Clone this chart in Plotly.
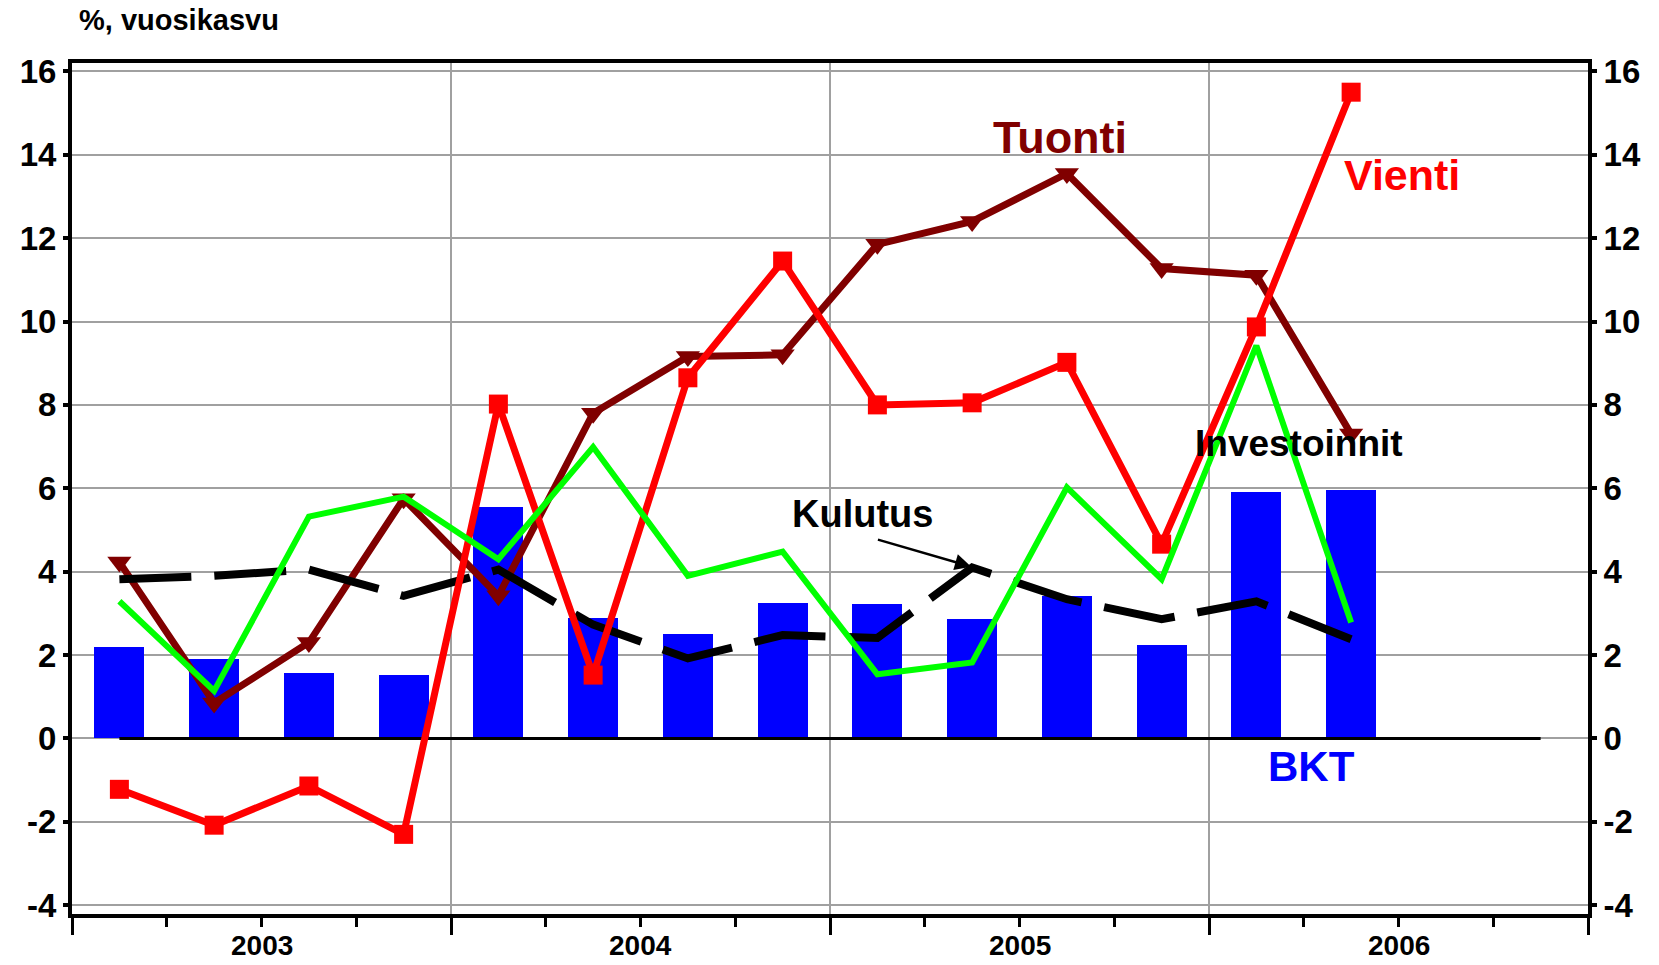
import plotly.graph_objects as go

# quarterly data 2003Q1 - 2006Q2, annual growth %
quarters = ["2003Q1", "2003Q2", "2003Q3", "2003Q4",
            "2004Q1", "2004Q2", "2004Q3", "2004Q4",
            "2005Q1", "2005Q2", "2005Q3", "2005Q4",
            "2006Q1", "2006Q2"]
years = ["2003", "2004", "2005", "2006"]
y_ticks = [-4, -2, 0, 2, 4, 6, 8, 10, 12, 14, 16]

bkt = [2.2, 1.9, 1.57, 1.52, 5.55, 2.88, 2.5, 3.25, 3.23, 2.87, 3.42, 2.23, 5.92, 5.95]
vienti = [-1.22, -2.08, -1.14, -2.3, 8.02, 1.52, 8.65, 11.45, 8.0, 8.05, 9.02, 4.66, 9.87, 15.5]
tuonti = [4.23, 0.85, 2.3, 5.75, 3.42, 7.8, 9.16, 9.2, 11.85, 12.4, 13.55, 11.27, 11.11, 7.3]
investoinnit = [3.29, 1.14, 5.32, 5.8, 4.3, 6.99, 3.9, 4.48, 1.54, 1.82, 6.02, 3.82, 9.42, 2.78]
kulutus = [3.82, 3.9, 4.05, 3.42, 4.05, 2.73, 1.92, 2.48, 2.41, 4.1, 3.34, 2.86, 3.29, 2.38]
zero_line = [0] * 16

n_q = 4 * len(years)
xq = [i + 0.5 for i in range(len(quarters))]
xz = [i + 0.5 for i in range(n_q)]

FONT = "Liberation Sans, Arial, sans-serif"

fig = go.Figure()
fig.add_trace(go.Bar(x=xq, y=bkt, width=0.53, marker=dict(color="#0000FF", line=dict(width=0)),
                     name="BKT"))
fig.add_trace(go.Scatter(x=xz, y=zero_line, mode="lines", line=dict(color="black", width=3),
                         hoverinfo="skip"))
fig.add_trace(go.Scatter(x=xq, y=tuonti, mode="lines+markers", name="Tuonti",
                         line=dict(color="#800000", width=7),
                         marker=dict(symbol="triangle-down", size=21, color="#800000")))
fig.add_trace(go.Scatter(x=xq, y=kulutus, mode="lines", name="Kulutus",
                         line=dict(color="black", width=8, dash="72px,23px")))
fig.add_trace(go.Scatter(x=xq, y=vienti, mode="lines+markers", name="Vienti",
                         line=dict(color="#FF0000", width=7),
                         marker=dict(symbol="square", size=19, color="#FF0000")))
fig.add_trace(go.Scatter(x=xq, y=investoinnit, mode="lines", name="Investoinnit",
                         line=dict(color="#00FF00", width=6)))
fig.add_trace(go.Scatter(x=[None], y=[None], yaxis="y2", showlegend=False))

yr = [-4.21, 16.2]
ytick = dict(tickmode="array", tickvals=y_ticks, ticktext=[str(v) for v in y_ticks],
             ticks="outside", ticklen=5, tickwidth=4, automargin=False,
             tickcolor="black", tickfont=dict(family=FONT, size=33, color="black", weight="bold"))

# year labels sit in the middle of each year, below the axis
year_labels = [dict(text=yy, x=4 * i + 2, xref="x", yref="paper", y=-0.037,
                    xanchor="center", yanchor="middle", showarrow=False,
                    font=dict(family=FONT, size=28, color="black", weight="bold"))
               for i, yy in enumerate(years)]

# the page body has an 8px margin, so the figure is 16px smaller than the window
fig.update_layout(
    width=1643, height=949,
    plot_bgcolor="white", paper_bgcolor="white",
    showlegend=False,
    margin=dict(l=64, r=63, t=55, b=43),
    xaxis=dict(range=[0, n_q], tickmode="array", automargin=False,
               tickvals=[4 * i for i in range(len(years) + 1)],
               showticklabels=False,
               ticks="outside", ticklen=17, tickwidth=3, tickcolor="black",
               showgrid=True, gridcolor="#A0A0A0", gridwidth=1.5,
               showline=True, linewidth=4, linecolor="black", mirror=True,
               zeroline=False,
               minor=dict(tickmode="array", tickvals=list(range(n_q + 1)), ticks="outside",
                          ticklen=9, tickwidth=3, tickcolor="black", showgrid=False)),
    yaxis=dict(range=yr, showgrid=True, gridcolor="#A0A0A0", gridwidth=1.5,
               showline=True, linewidth=4, linecolor="black", mirror=True,
               zeroline=False, **ytick),
    yaxis2=dict(range=yr, overlaying="y", side="right", showgrid=False,
                showline=True, linewidth=4, linecolor="black", zeroline=False, **ytick),
    bargap=0,
    annotations=year_labels + [
        dict(text="%, vuosikasvu", xref="paper", yref="paper", x=0.0033, y=1.051,
             xanchor="left", yanchor="middle", showarrow=False,
             font=dict(family=FONT, size=29, color="black", weight="bold")),
        dict(text="Tuonti", x=10.43, y=14.41, showarrow=False,
             font=dict(family=FONT, size=45, color="#800000", weight="bold")),
        dict(text="Vienti", x=14.04, y=13.52, showarrow=False,
             font=dict(family=FONT, size=43, color="#FF0000", weight="bold")),
        dict(text="Investoinnit", x=12.95, y=7.07, showarrow=False,
             font=dict(family=FONT, size=37, color="black", weight="bold")),
        dict(text="Kulutus", x=8.34, y=5.39, showarrow=False,
             font=dict(family=FONT, size=38, color="black", weight="bold")),
        dict(text="", x=9.49, y=4.12, ax=8.49, ay=4.78, axref="x", ayref="y",
             showarrow=True, arrowhead=2, arrowsize=1.3, arrowwidth=2.5, arrowcolor="black"),
        dict(text="BKT", x=13.08, y=-0.68, showarrow=False,
             font=dict(family=FONT, size=42, color="#0000FF", weight="bold")),
    ],
)

fig.write_html("out.html")
